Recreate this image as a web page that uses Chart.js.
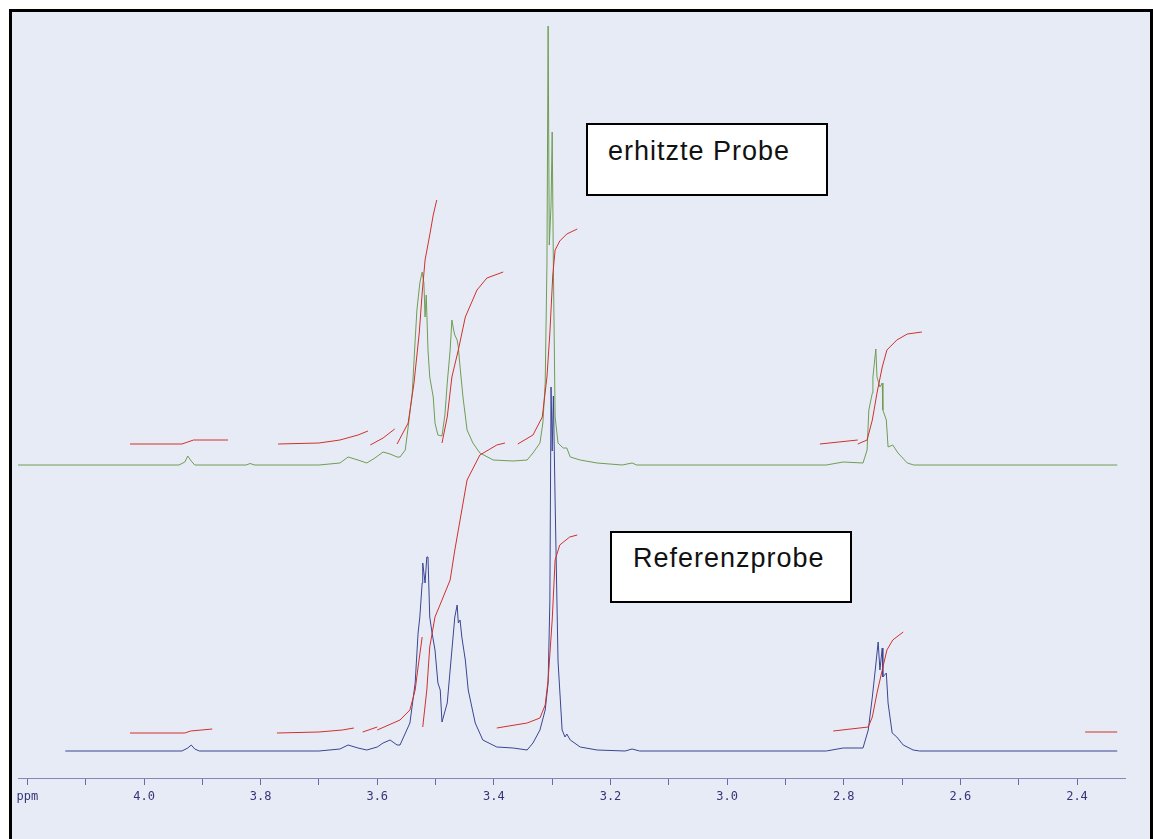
<!DOCTYPE html>
<html>
<head>
<meta charset="utf-8">
<script src="https://cdn.jsdelivr.net/npm/chart.js@4/dist/chart.umd.min.js"></script>
<style>
  html, body { margin: 0; padding: 0; background: #ffffff; }
  body { width: 1153px; height: 839px; position: relative; overflow: hidden; }
  #frame {
    position: absolute; left: 9px; top: 9px; width: 1138px; height: 900px;
    border: 3px solid #000; background: #e7ebf5;
  }
  #spectrum { position: absolute; left: 0; top: 0; }
  .label {
    position: absolute; box-sizing: border-box; border: 2px solid #000; background: #fff;
    font-family: "Liberation Sans", Arial, sans-serif; color: #111; white-space: nowrap;
    font-size: 27px; letter-spacing: 1px; line-height: normal;
  }
</style>
</head>
<body>
<div id="frame"></div>
<canvas id="spectrum" width="1153" height="839"></canvas>
<div class="label" style="left:586px; top:123px; width:242px; height:73px; padding:11px 0 0 20px;">erhitzte Probe</div>
<div class="label" style="left:610px; top:531px; width:242px; height:72px; padding:10px 0 0 21px;">Referenzprobe</div>
<script>
// chemical shift in ppm, intensity (upper trace = heated sample)
const upperPpm = [4.216, 3.940, 3.930, 3.925, 3.919, 3.913, 3.825, 3.818, 3.810, 3.700,
  3.664, 3.650, 3.633, 3.618, 3.604, 3.590, 3.578, 3.566, 3.561, 3.552,
  3.547, 3.540, 3.535, 3.532, 3.527, 3.523, 3.520, 3.518, 3.516, 3.513,
  3.510, 3.504, 3.501, 3.496, 3.489, 3.484, 3.480, 3.475, 3.472, 3.469,
  3.467, 3.463, 3.461, 3.458, 3.453, 3.446, 3.436, 3.424, 3.401, 3.367,
  3.343, 3.333, 3.321, 3.316, 3.312, 3.309, 3.307, 3.305, 3.302, 3.300,
  3.298, 3.295, 3.290, 3.283, 3.281, 3.275, 3.269, 3.252, 3.223, 3.180,
  3.163, 3.155, 2.830, 2.801, 2.767, 2.760, 2.757, 2.751, 2.750, 2.745,
  2.743, 2.738, 2.734, 2.733, 2.727, 2.724, 2.716, 2.707, 2.691, 2.680, 2.331]
const upperInt = [0, 0, 3, 9, 4, 0, 0, 1.5, 0, 0,
  2, 8, 5, 2, 7, 13, 11, 8, 8, 15,
  38, 72, 125, 155, 182, 193, 182, 148, 170, 115,
  88, 68, 42, 30, 29, 50, 82, 115, 145, 135,
  130, 125, 118, 98, 68, 35, 22, 12, 5, 4,
  5, 12, 22, 42, 82, 200, 439, 220, 260, 333,
  200, 48, 22, 18, 17, 17, 8, 5, 2, 0,
  2, 0, 0, 3, 2, 15, 55, 72, 88, 116,
  88, 78, 82, 55, 45, 18, 20, 12, 2, 0, 0]

// lower trace = reference sample
const lowerPpm = [4.135, 3.935, 3.925, 3.919, 3.913, 3.905, 3.700, 3.664, 3.650, 3.633,
  3.618, 3.600, 3.590, 3.578, 3.566, 3.561, 3.544, 3.535, 3.530, 3.527,
  3.523, 3.522, 3.518, 3.515, 3.513, 3.510, 3.506, 3.501, 3.496, 3.492,
  3.489, 3.480, 3.472, 3.467, 3.463, 3.461, 3.458, 3.455, 3.449, 3.444,
  3.432, 3.419, 3.395, 3.367, 3.343, 3.333, 3.321, 3.312, 3.307, 3.304,
  3.302, 3.300, 3.298, 3.295, 3.290, 3.283, 3.278, 3.275, 3.269, 3.252,
  3.223, 3.175, 3.163, 3.150, 2.830, 2.801, 2.767, 2.758, 2.751, 2.746,
  2.741, 2.738, 2.734, 2.733, 2.727, 2.724, 2.717, 2.709, 2.698, 2.681, 2.670, 2.331]
const lowerInt = [0, 0, 3, 6, 2, 0, 0, 2, 6, 3,
  1, 4, 8, 11, 6, 6, 28, 68, 118, 134,
  168, 188, 168, 194, 194, 134, 118, 101, 68, 61,
  29, 48, 101, 134, 146, 128, 131, 114, 91, 61,
  28, 11, 4, 3, 1, 8, 21, 41, 68, 150,
  364, 300, 355, 250, 90, 21, 14, 17, 11, 4,
  1, 0, 2, 0, 0, 3, 3, 21, 54, 81,
  109, 81, 103, 74, 78, 48, 18, 14, 6, 1, 0, 0]

// integral curves, null = break between pieces
const upperIntegralPpm = [4.024, 3.935, 3.925, 3.915, 3.856, 3.856,
  3.770, 3.700, 3.664, 3.633, 3.616, 3.616,
  3.612, 3.590, 3.570, 3.570,
  3.566, 3.547, 3.537, 3.528, 3.523, 3.518, 3.510, 3.504, 3.498, 3.498,
  3.489, 3.480, 3.472, 3.461, 3.449, 3.429, 3.412, 3.384, 3.384,
  3.359, 3.333, 3.317, 3.309, 3.304, 3.299, 3.295, 3.287, 3.275, 3.257, 3.257,
  2.841, 2.776, 2.776,
  2.776, 2.760, 2.751, 2.743, 2.734, 2.726, 2.709, 2.691, 2.666]
const upperIntegralVal = [21, 21, 23, 25, 25, null,
  21, 22, 25, 30, 34, null,
  20, 27, 36, null,
  21, 42, 82, 132, 172, 205, 230, 250, 265, null,
  22, 48, 88, 115, 148, 175, 187, 193, null,
  21, 30, 48, 88, 132, 190, 215, 224, 231, 236, null,
  21, 25, null,
  21, 25, 45, 72, 98, 115, 125, 131, 133]

const lowerIntegralPpm = [4.024, 3.930, 3.920, 3.883, 3.883,
  3.772, 3.700, 3.660, 3.640, 3.640,
  3.625, 3.600, 3.600,
  3.600, 3.561, 3.544, 3.535, 3.530, 3.523, 3.523,
  3.522, 3.515, 3.510, 3.501, 3.489, 3.475, 3.467, 3.446, 3.424, 3.395, 3.381, 3.381,
  3.395, 3.343, 3.321, 3.312, 3.307, 3.300, 3.295, 3.287, 3.270, 3.257, 3.257,
  2.818, 2.758, 2.751, 2.743, 2.734, 2.726, 2.716, 2.698, 2.698,
  2.386, 2.331]
const lowerIntegralVal = [18, 18, 20, 22, null,
  18, 19, 21, 23, null,
  19, 24, null,
  21, 31, 41, 61, 84, 114, null,
  24, 61, 104, 134, 151, 171, 201, 271, 296, 306, 308, null,
  23, 28, 33, 46, 71, 131, 191, 206, 214, 216, null,
  20, 24, 34, 58, 81, 101, 111, 119, null,
  19, 19]

const tickValues = [4.2, 4.1, 4.0, 3.9, 3.8, 3.7, 3.6, 3.5, 3.4, 3.3, 3.2, 3.1, 3.0, 2.9, 2.8, 2.7, 2.6, 2.5, 2.4]

function toPoints(xs, ys) {
  return xs.map((x, i) => ({ x: x, y: ys[i] }))
}

const lineStyle = { pointRadius: 0, borderWidth: 1, tension: 0, fill: false, spanGaps: false }

new Chart(document.getElementById('spectrum'), {
  type: 'line',
  data: {
    datasets: [
      { ...lineStyle, label: 'Integral erhitzt', data: toPoints(upperIntegralPpm, upperIntegralVal), borderColor: '#d0302c', yAxisID: 'yUp' },
      { ...lineStyle, label: 'Integral Referenz', data: toPoints(lowerIntegralPpm, lowerIntegralVal), borderColor: '#d0302c', yAxisID: 'yLow' },
      { ...lineStyle, label: 'Referenzprobe', data: toPoints(lowerPpm, lowerInt), borderColor: '#3a4592', yAxisID: 'yLow' },
      { ...lineStyle, label: 'erhitzte Probe', data: toPoints(upperPpm, upperInt), borderColor: '#6f9c52', yAxisID: 'yUp' },
    ],
  },
  options: {
    responsive: false,
    animation: false,
    layout: { padding: { left: 18, right: 28, top: 20, bottom: 21 } },
    plugins: { legend: { display: false }, tooltip: { enabled: false } },
    scales: {
      x: {
        type: 'linear',
        reverse: true,
        min: 2.3177,
        max: 4.2161,
        afterBuildTicks: (scale) => {
          scale.ticks = tickValues.map((v) => ({ value: v }))
        },
        afterFit: (scale) => {
          scale.height = 40
        },
        ticks: {
          autoSkip: false,
          maxRotation: 0,
          padding: 5,
          color: '#35357a',
          font: { family: 'DejaVu Sans Mono', size: 12 },
          callback: (v) => {
            const k = Math.round(v * 10)
            if (k === 42) return 'ppm'
            return k % 2 === 0 ? (k / 10).toFixed(1) : ''
          },
        },
        grid: { drawOnChartArea: false, drawTicks: true, tickLength: 7, tickColor: '#6a6aa8' },
        border: { display: true, color: '#8585bb', width: 1 },
      },
      yLow: { type: 'linear', display: false, min: -27, max: 731 },
      yUp: { type: 'linear', display: false, min: -313, max: 445 },
    },
  },
})
</script>
</body>
</html>
